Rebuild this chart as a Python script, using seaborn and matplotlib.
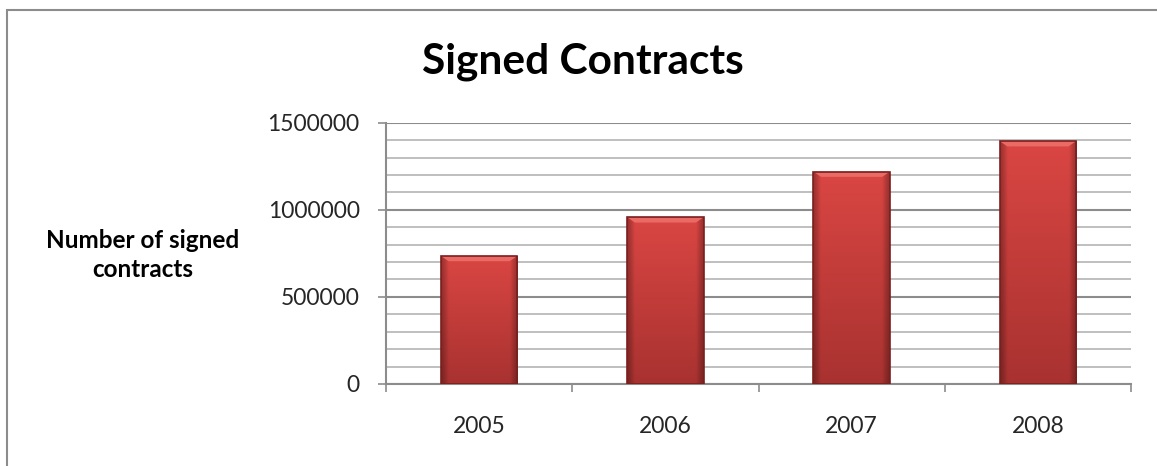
import numpy as np
import pandas as pd
import matplotlib
matplotlib.use("Agg")
import matplotlib.pyplot as plt
import matplotlib.colors as mcolors
from matplotlib.patches import Rectangle, Polygon
from matplotlib.ticker import MultipleLocator, FixedLocator
import seaborn as sns

years = ["2005", "2006", "2007", "2008"]
contracts = [735000, 957000, 1219000, 1394000]
y_ticks = [0, 500000, 1000000, 1500000]
title = "Signed Contracts"
ylabel = "Number of signed\ncontracts"

sns.set_theme(style="white")
plt.rcParams["font.family"] = ["Lato", "DejaVu Sans"]

df = pd.DataFrame({"year": years, "contracts": contracts})

W, H = 1157, 466
fig = plt.figure(figsize=(W / 100, H / 100), dpi=100)
ax = fig.add_axes([386 / W, 1 - 384 / H, (1131 - 386) / W, (384 - 122.7) / H])

sns.barplot(data=df, x="year", y="contracts", ax=ax, color="#C63C38",
            width=0.41, edgecolor="#7A1F1E", linewidth=1.2, saturation=1, zorder=3)

ax.set_ylim(0, 1500000)
ax.set_xlim(-0.5, len(years) - 0.5)

# gridlines
ax.yaxis.set_major_locator(FixedLocator(y_ticks))
ax.yaxis.set_minor_locator(MultipleLocator(100000))
ax.grid(False)
ax.grid(which="minor", axis="y", color="#BFBFBF", linewidth=1.4, zorder=0)
ax.grid(which="major", axis="y", color="#8C8C8C", linewidth=1.5, zorder=0)
ax.set_axisbelow(True)

ax.set_yticklabels([str(v) for v in y_ticks])
ax.tick_params(axis="y", which="major", length=6, width=1.2, color="#8C8C8C",
               direction="out", pad=13, labelsize=16.5, left=True)
ax.tick_params(axis="y", which="minor", length=0)

# x ticks: labels on majors, tick marks at category boundaries
ax.xaxis.set_minor_locator(FixedLocator(np.arange(-0.5, len(years), 1.0)))
ax.tick_params(axis="x", which="major", length=0, pad=23, labelsize=16.5)
ax.tick_params(axis="x", which="minor", length=6, width=1.2, color="#8C8C8C",
               direction="out", bottom=True)

for s in ["top", "right"]:
    ax.spines[s].set_visible(False)
for s in ["left", "bottom"]:
    ax.spines[s].set_color("#8C8C8C")
    ax.spines[s].set_linewidth(1.5)

ax.set_xlabel("")
ax.set_ylabel("")

# gradient fill on each bar
grad = np.linspace(0, 1, 256).reshape(-1, 1)
cmap_v = mcolors.LinearSegmentedColormap.from_list("v", ["#A83230", "#DA4643"])
for p in ax.patches[:]:
    x0, y0 = p.get_x(), p.get_y()
    w, h = p.get_width(), p.get_height()
    horiz = np.linspace(-1, 1, 64)
    shade = 1 - 0.3 * np.clip(np.abs(horiz) - 0.8, 0, None) / 0.2
    img = cmap_v(np.repeat(grad, 64, axis=1))
    img[..., :3] *= shade[None, :, None]
    im = ax.imshow(img, extent=[x0, x0 + w, y0, y0 + h], origin="lower",
                   aspect="auto", zorder=3.5)
    im.set_clip_path(p)
    # top bevel highlight (trapezoid)
    bh = 30000
    ax.add_patch(Polygon([(x0, y0 + h), (x0 + w, y0 + h),
                          (x0 + w * 0.9, y0 + h - bh), (x0 + w * 0.1, y0 + h - bh)],
                         closed=True, color="#EA6A66", lw=0, zorder=3.6))
    p.set_facecolor("none")
    p.set_zorder(4)

ax.set_aspect("auto")

fig.text(583 / W, 1 - 62 / H, title, ha="center", va="center",
         fontsize=30.5, fontweight="bold", color="black")
fig.text(143 / W, 1 - 255 / H, ylabel, ha="center", va="center",
         fontsize=17.5, fontweight="bold", color="black", linespacing=1.35)

# outer chart frame (left and top edges visible)
fig.patches.append(Rectangle((7 / W, -0.2), 1.2, 1.2 - 10 / H, transform=fig.transFigure,
                             fill=False, edgecolor="#8C8C8C", linewidth=1.5))

fig.savefig("out.png", dpi=100)
